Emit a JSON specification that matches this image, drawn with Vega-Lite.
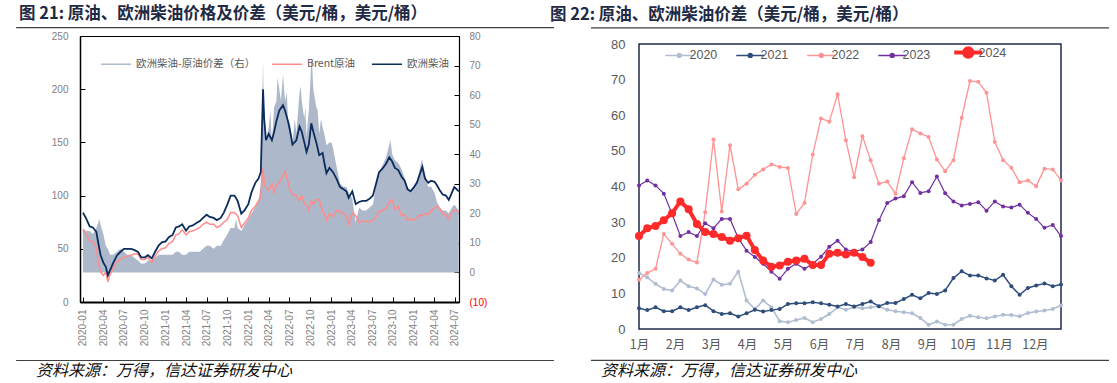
{
"$schema": "https://vega.github.io/schema/vega-lite/v6.json",
"background": "white",
"padding": {"left": 15, "top": 5, "right": 5, "bottom": 5},
"config": {"view": {"stroke": null}, "axis": {"grid": false}, "font": "Liberation Sans"},
"bounds": "flush",
"spacing": 180,
"resolve": {"scale": {"color": "independent", "strokeWidth": "independent"}, "legend": {"color": "independent"}},
"datasets": {
"oil": [
{"date":"2020-01-02","brent":68,"diesel":84,"spread":15},
{"date":"2020-01-15","brent":64,"diesel":79,"spread":14},
{"date":"2020-02-01","brent":57,"diesel":71,"spread":14},
{"date":"2020-02-15","brent":57,"diesel":70,"spread":13},
{"date":"2020-03-01","brent":51,"diesel":66,"spread":15},
{"date":"2020-03-10","brent":37,"diesel":55,"spread":17},
{"date":"2020-03-15","spread":18},
{"date":"2020-03-20","brent":28,"diesel":44,"spread":16},
{"date":"2020-04-01","brent":25,"diesel":37,"spread":13},
{"date":"2020-04-12","brent":28,"diesel":33,"spread":9},
{"date":"2020-04-21","brent":19,"diesel":25,"spread":8},
{"date":"2020-05-01","brent":26,"diesel":30,"spread":6},
{"date":"2020-05-15","brent":32,"diesel":37,"spread":6},
{"date":"2020-06-01","brent":38,"diesel":44,"spread":7},
{"date":"2020-06-15","brent":40,"diesel":47,"spread":8},
{"date":"2020-07-01","brent":42,"diesel":50,"spread":7},
{"date":"2020-07-15","brent":43,"diesel":50,"spread":6},
{"date":"2020-08-01","brent":44,"diesel":50,"spread":6},
{"date":"2020-08-15","brent":45,"diesel":49,"spread":5},
{"date":"2020-09-01","brent":45,"diesel":47,"spread":4},
{"date":"2020-09-15","brent":40,"diesel":42,"spread":3},
{"date":"2020-10-01","brent":40,"diesel":42,"spread":3},
{"date":"2020-10-15","brent":42,"diesel":44,"spread":4},
{"date":"2020-11-01","brent":37,"diesel":41,"spread":4},
{"date":"2020-11-15","brent":43,"diesel":47,"spread":5},
{"date":"2020-12-01","brent":48,"diesel":53,"spread":6},
{"date":"2020-12-15","brent":50,"diesel":56,"spread":6},
{"date":"2021-01-01","brent":51,"diesel":57,"spread":6},
{"date":"2021-01-15","brent":55,"diesel":61,"spread":6},
{"date":"2021-02-01","brent":57,"diesel":63,"spread":6},
{"date":"2021-02-15","brent":63,"diesel":70,"spread":7},
{"date":"2021-03-01","brent":64,"diesel":71,"spread":7},
{"date":"2021-03-15","brent":68,"diesel":73,"spread":6},
{"date":"2021-04-01","brent":63,"diesel":67,"spread":6},
{"date":"2021-04-15","brent":66,"diesel":71,"spread":7},
{"date":"2021-05-01","brent":67,"diesel":72,"spread":7},
{"date":"2021-05-15","brent":68,"diesel":74,"spread":7},
{"date":"2021-06-01","brent":70,"diesel":76,"spread":7},
{"date":"2021-06-15","brent":73,"diesel":79,"spread":8},
{"date":"2021-07-01","brent":75,"diesel":82,"spread":9},
{"date":"2021-07-15","brent":73,"diesel":80,"spread":9},
{"date":"2021-08-01","brent":73,"diesel":79,"spread":8},
{"date":"2021-08-15","brent":70,"diesel":77,"spread":9},
{"date":"2021-09-01","brent":72,"diesel":79,"spread":9},
{"date":"2021-09-15","brent":75,"diesel":84,"spread":11},
{"date":"2021-10-01","brent":78,"diesel":92,"spread":13},
{"date":"2021-10-15","brent":84,"diesel":100,"spread":15},
{"date":"2021-11-01","brent":84,"diesel":100,"spread":15},
{"date":"2021-11-08","spread":18},
{"date":"2021-11-15","brent":81,"diesel":95,"spread":15},
{"date":"2021-12-01","brent":70,"diesel":83,"spread":14},
{"date":"2021-12-15","brent":74,"diesel":86,"spread":16},
{"date":"2022-01-01","brent":79,"diesel":92,"spread":18},
{"date":"2022-01-15","brent":86,"diesel":103,"spread":20},
{"date":"2022-02-01","brent":90,"diesel":112,"spread":22},
{"date":"2022-02-15","brent":95,"diesel":116,"spread":24},
{"date":"2022-02-25","brent":99,"diesel":122,"spread":30},
{"date":"2022-03-07","brent":126,"diesel":200,"spread":72},
{"date":"2022-03-09","spread":62},
{"date":"2022-03-12","brent":112,"diesel":172,"spread":52},
{"date":"2022-03-20","brent":107,"diesel":152,"spread":45},
{"date":"2022-04-01","brent":105,"diesel":158,"spread":49},
{"date":"2022-04-08","spread":55},
{"date":"2022-04-15","brent":111,"diesel":152,"spread":44},
{"date":"2022-04-25","brent":102,"diesel":160,"spread":56},
{"date":"2022-05-05","brent":110,"diesel":170,"spread":58},
{"date":"2022-05-10","spread":66},
{"date":"2022-05-18","brent":112,"diesel":180,"spread":62},
{"date":"2022-05-25","spread":58},
{"date":"2022-06-03","brent":119,"diesel":185,"spread":67},
{"date":"2022-06-12","brent":123,"diesel":180,"spread":58},
{"date":"2022-06-20","spread":61},
{"date":"2022-06-25","brent":113,"diesel":170,"spread":52},
{"date":"2022-07-05","brent":105,"diesel":160,"spread":50},
{"date":"2022-07-15","brent":101,"diesel":148,"spread":44},
{"date":"2022-07-25","spread":52},
{"date":"2022-08-01","brent":100,"diesel":152,"spread":47},
{"date":"2022-08-15","brent":95,"diesel":165,"spread":61},
{"date":"2022-08-20","spread":63},
{"date":"2022-08-25","brent":100,"diesel":160,"spread":58},
{"date":"2022-09-05","brent":93,"diesel":150,"spread":52},
{"date":"2022-09-10","spread":56},
{"date":"2022-09-15","brent":91,"diesel":141,"spread":46},
{"date":"2022-09-25","brent":86,"diesel":148,"spread":55},
{"date":"2022-10-03","spread":66},
{"date":"2022-10-06","brent":95,"diesel":168,"spread":73},
{"date":"2022-10-10","spread":70},
{"date":"2022-10-15","brent":92,"diesel":160,"spread":62},
{"date":"2022-10-28","brent":96,"diesel":150,"spread":56},
{"date":"2022-11-03","spread":55},
{"date":"2022-11-10","brent":96,"diesel":138,"spread":47},
{"date":"2022-11-18","spread":52},
{"date":"2022-11-25","brent":85,"diesel":140,"spread":49},
{"date":"2022-12-05","brent":82,"diesel":128,"spread":46},
{"date":"2022-12-12","brent":77,"diesel":121,"spread":43},
{"date":"2022-12-25","brent":83,"diesel":126,"spread":44},
{"date":"2023-01-03","spread":44},
{"date":"2023-01-10","brent":80,"diesel":122,"spread":42},
{"date":"2023-01-25","brent":86,"diesel":116,"spread":36},
{"date":"2023-02-10","brent":85,"diesel":108,"spread":30},
{"date":"2023-02-25","brent":83,"diesel":106,"spread":29},
{"date":"2023-03-10","brent":80,"diesel":104,"spread":29},
{"date":"2023-03-20","brent":73,"diesel":98,"spread":27},
{"date":"2023-04-05","brent":84,"diesel":104,"spread":25},
{"date":"2023-04-20","brent":81,"diesel":92,"spread":17},
{"date":"2023-05-05","brent":75,"diesel":94,"spread":22},
{"date":"2023-05-20","brent":76,"diesel":95,"spread":21},
{"date":"2023-06-05","brent":76,"diesel":95,"spread":21},
{"date":"2023-06-20","brent":75,"diesel":97,"spread":22},
{"date":"2023-07-05","brent":77,"diesel":100,"spread":23},
{"date":"2023-07-20","brent":80,"diesel":112,"spread":30},
{"date":"2023-08-01","brent":85,"diesel":122,"spread":34},
{"date":"2023-08-15","brent":86,"diesel":125,"spread":36},
{"date":"2023-09-01","brent":88,"diesel":130,"spread":39},
{"date":"2023-09-15","brent":94,"diesel":136,"spread":43},
{"date":"2023-09-20","spread":45},
{"date":"2023-09-28","brent":96,"diesel":132,"spread":40},
{"date":"2023-10-10","brent":87,"diesel":126,"spread":38},
{"date":"2023-10-25","brent":90,"diesel":124,"spread":37},
{"date":"2023-11-08","brent":81,"diesel":118,"spread":35},
{"date":"2023-11-22","brent":82,"diesel":114,"spread":32},
{"date":"2023-12-05","brent":77,"diesel":106,"spread":29},
{"date":"2023-12-18","brent":78,"diesel":104,"spread":27},
{"date":"2024-01-02","brent":77,"diesel":108,"spread":29},
{"date":"2024-01-15","brent":79,"diesel":112,"spread":31},
{"date":"2024-01-28","brent":82,"diesel":120,"spread":35},
{"date":"2024-02-05","spread":38},
{"date":"2024-02-08","brent":81,"diesel":127,"spread":38},
{"date":"2024-02-20","brent":83,"diesel":116,"spread":33},
{"date":"2024-03-05","brent":82,"diesel":112,"spread":29},
{"date":"2024-03-18","brent":86,"diesel":114,"spread":29},
{"date":"2024-04-02","brent":88,"diesel":113,"spread":27},
{"date":"2024-04-12","brent":90,"diesel":110,"spread":24},
{"date":"2024-04-25","brent":88,"diesel":105,"spread":22},
{"date":"2024-05-08","brent":83,"diesel":101,"spread":21},
{"date":"2024-05-22","brent":82,"diesel":100,"spread":21},
{"date":"2024-06-04","brent":78,"diesel":96,"spread":20},
{"date":"2024-06-18","brent":85,"diesel":103,"spread":22},
{"date":"2024-06-28","brent":86,"diesel":108,"spread":23},
{"date":"2024-07-08","brent":86,"diesel":106,"spread":22},
{"date":"2024-07-18","brent":85,"diesel":104,"spread":21}
],
"wk": [
{"year":"2020","week":0,"value":15.7},{"year":"2020","week":1,"value":14.5},{"year":"2020","week":2,"value":12.7},{"year":"2020","week":3,"value":11.2},{"year":"2020","week":4,"value":10.8},{"year":"2020","week":5,"value":13.6},{"year":"2020","week":6,"value":12.0},{"year":"2020","week":7,"value":11.4},{"year":"2020","week":8,"value":9.8},{"year":"2020","week":9,"value":13.9},{"year":"2020","week":10,"value":12.4},{"year":"2020","week":11,"value":12.7},{"year":"2020","week":12,"value":16.1},{"year":"2020","week":13,"value":8.0},{"year":"2020","week":14,"value":5.6},{"year":"2020","week":15,"value":8.0},{"year":"2020","week":16,"value":6.1},{"year":"2020","week":17,"value":2.2},{"year":"2020","week":18,"value":1.9},{"year":"2020","week":19,"value":2.5},{"year":"2020","week":20,"value":3.1},{"year":"2020","week":21,"value":1.9},{"year":"2020","week":22,"value":2.8},{"year":"2020","week":23,"value":4.2},{"year":"2020","week":24,"value":6.1},{"year":"2020","week":25,"value":5.4},{"year":"2020","week":26,"value":6.1},{"year":"2020","week":27,"value":5.8},{"year":"2020","week":28,"value":6.1},{"year":"2020","week":29,"value":6.3},{"year":"2020","week":30,"value":5.4},{"year":"2020","week":31,"value":5.0},{"year":"2020","week":32,"value":4.7},{"year":"2020","week":33,"value":4.4},{"year":"2020","week":34,"value":3.1},{"year":"2020","week":35,"value":1.2},{"year":"2020","week":36,"value":2.1},{"year":"2020","week":37,"value":1.2},{"year":"2020","week":38,"value":1.2},{"year":"2020","week":39,"value":2.8},{"year":"2020","week":40,"value":3.7},{"year":"2020","week":41,"value":3.3},{"year":"2020","week":42,"value":3.0},{"year":"2020","week":43,"value":3.5},{"year":"2020","week":44,"value":4.0},{"year":"2020","week":45,"value":3.9},{"year":"2020","week":46,"value":3.6},{"year":"2020","week":47,"value":4.5},{"year":"2020","week":48,"value":4.9},{"year":"2020","week":49,"value":5.2},{"year":"2020","week":50,"value":5.6},{"year":"2020","week":51,"value":6.6},
{"year":"2021","week":0,"value":5.8},{"year":"2021","week":1,"value":5.3},{"year":"2021","week":2,"value":6.1},{"year":"2021","week":3,"value":5.0},{"year":"2021","week":4,"value":5.0},{"year":"2021","week":5,"value":6.1},{"year":"2021","week":6,"value":5.3},{"year":"2021","week":7,"value":6.1},{"year":"2021","week":8,"value":6.7},{"year":"2021","week":9,"value":5.0},{"year":"2021","week":10,"value":4.2},{"year":"2021","week":11,"value":4.4},{"year":"2021","week":12,"value":3.5},{"year":"2021","week":13,"value":4.4},{"year":"2021","week":14,"value":5.4},{"year":"2021","week":15,"value":4.9},{"year":"2021","week":16,"value":5.3},{"year":"2021","week":17,"value":5.6},{"year":"2021","week":18,"value":7.0},{"year":"2021","week":19,"value":7.2},{"year":"2021","week":20,"value":7.2},{"year":"2021","week":21,"value":7.5},{"year":"2021","week":22,"value":7.2},{"year":"2021","week":23,"value":6.8},{"year":"2021","week":24,"value":6.3},{"year":"2021","week":25,"value":7.0},{"year":"2021","week":26,"value":6.3},{"year":"2021","week":27,"value":7.0},{"year":"2021","week":28,"value":7.7},{"year":"2021","week":29,"value":6.4},{"year":"2021","week":30,"value":7.3},{"year":"2021","week":31,"value":7.3},{"year":"2021","week":32,"value":8.4},{"year":"2021","week":33,"value":9.6},{"year":"2021","week":34,"value":8.6},{"year":"2021","week":35,"value":10.1},{"year":"2021","week":36,"value":9.8},{"year":"2021","week":37,"value":10.8},{"year":"2021","week":38,"value":14.3},{"year":"2021","week":39,"value":16.2},{"year":"2021","week":40,"value":15.0},{"year":"2021","week":41,"value":15.0},{"year":"2021","week":42,"value":14.2},{"year":"2021","week":43,"value":13.6},{"year":"2021","week":44,"value":15.2},{"year":"2021","week":45,"value":12.0},{"year":"2021","week":46,"value":9.6},{"year":"2021","week":47,"value":11.5},{"year":"2021","week":48,"value":12.2},{"year":"2021","week":49,"value":12.8},{"year":"2021","week":50,"value":12.0},{"year":"2021","week":51,"value":12.5},
{"year":"2022","week":0,"value":13.8},{"year":"2022","week":1,"value":15.7},{"year":"2022","week":2,"value":16.9},{"year":"2022","week":3,"value":26.7},{"year":"2022","week":4,"value":23.9},{"year":"2022","week":5,"value":21.1},{"year":"2022","week":6,"value":19.5},{"year":"2022","week":7,"value":18.7},{"year":"2022","week":8,"value":32.8},{"year":"2022","week":9,"value":53.2},{"year":"2022","week":10,"value":33.0},{"year":"2022","week":11,"value":51.6},{"year":"2022","week":12,"value":39.2},{"year":"2022","week":13,"value":40.8},{"year":"2022","week":14,"value":43.3},{"year":"2022","week":15,"value":44.8},{"year":"2022","week":16,"value":46.2},{"year":"2022","week":17,"value":45.5},{"year":"2022","week":18,"value":45.2},{"year":"2022","week":19,"value":32.3},{"year":"2022","week":20,"value":35.4},{"year":"2022","week":21,"value":49.0},{"year":"2022","week":22,"value":59.1},{"year":"2022","week":23,"value":58.2},{"year":"2022","week":24,"value":65.9},{"year":"2022","week":25,"value":53.0},{"year":"2022","week":26,"value":42.6},{"year":"2022","week":27,"value":54.1},{"year":"2022","week":28,"value":47.4},{"year":"2022","week":29,"value":40.8},{"year":"2022","week":30,"value":41.4},{"year":"2022","week":31,"value":38.0},{"year":"2022","week":32,"value":47.9},{"year":"2022","week":33,"value":56.1},{"year":"2022","week":34,"value":54.9},{"year":"2022","week":35,"value":53.9},{"year":"2022","week":36,"value":47.6},{"year":"2022","week":37,"value":44.3},{"year":"2022","week":38,"value":47.4},{"year":"2022","week":39,"value":59.3},{"year":"2022","week":40,"value":69.6},{"year":"2022","week":41,"value":69.4},{"year":"2022","week":42,"value":66.3},{"year":"2022","week":43,"value":52.5},{"year":"2022","week":44,"value":47.4},{"year":"2022","week":45,"value":45.3},{"year":"2022","week":46,"value":41.2},{"year":"2022","week":47,"value":41.7},{"year":"2022","week":48,"value":40.1},{"year":"2022","week":49,"value":45.0},{"year":"2022","week":50,"value":44.8},{"year":"2022","week":51,"value":41.7},
{"year":"2023","week":0,"value":40.3},{"year":"2023","week":1,"value":41.7},{"year":"2023","week":2,"value":40.3},{"year":"2023","week":3,"value":38.0},{"year":"2023","week":4,"value":32.3},{"year":"2023","week":5,"value":26.1},{"year":"2023","week":6,"value":27.2},{"year":"2023","week":7,"value":26.1},{"year":"2023","week":8,"value":29.7},{"year":"2023","week":9,"value":28.3},{"year":"2023","week":10,"value":30.9},{"year":"2023","week":11,"value":30.9},{"year":"2023","week":12,"value":25.5},{"year":"2023","week":13,"value":22.0},{"year":"2023","week":14,"value":20.2},{"year":"2023","week":15,"value":18.3},{"year":"2023","week":16,"value":16.1},{"year":"2023","week":17,"value":14.1},{"year":"2023","week":18,"value":16.9},{"year":"2023","week":19,"value":18.3},{"year":"2023","week":20,"value":16.9},{"year":"2023","week":21,"value":18.3},{"year":"2023","week":22,"value":20.3},{"year":"2023","week":23,"value":23.1},{"year":"2023","week":24,"value":24.8},{"year":"2023","week":25,"value":22.3},{"year":"2023","week":26,"value":21.7},{"year":"2023","week":27,"value":22.3},{"year":"2023","week":28,"value":24.4},{"year":"2023","week":29,"value":30.5},{"year":"2023","week":30,"value":35.4},{"year":"2023","week":31,"value":36.6},{"year":"2023","week":32,"value":37.3},{"year":"2023","week":33,"value":41.2},{"year":"2023","week":34,"value":38.2},{"year":"2023","week":35,"value":38.7},{"year":"2023","week":36,"value":42.8},{"year":"2023","week":37,"value":38.1},{"year":"2023","week":38,"value":35.8},{"year":"2023","week":39,"value":34.7},{"year":"2023","week":40,"value":35.1},{"year":"2023","week":41,"value":35.6},{"year":"2023","week":42,"value":33.2},{"year":"2023","week":43,"value":35.8},{"year":"2023","week":44,"value":34.4},{"year":"2023","week":45,"value":34.1},{"year":"2023","week":46,"value":34.9},{"year":"2023","week":47,"value":32.6},{"year":"2023","week":48,"value":30.9},{"year":"2023","week":49,"value":28.4},{"year":"2023","week":50,"value":29.2},{"year":"2023","week":51,"value":26.1},
{"year":"2024","week":0,"value":26.1},{"year":"2024","week":1,"value":28.3},{"year":"2024","week":2,"value":28.9},{"year":"2024","week":3,"value":30.5},{"year":"2024","week":4,"value":32.5},{"year":"2024","week":5,"value":35.8},{"year":"2024","week":6,"value":33.6},{"year":"2024","week":7,"value":29.5},{"year":"2024","week":8,"value":27.2},{"year":"2024","week":9,"value":26.7},{"year":"2024","week":10,"value":25.8},{"year":"2024","week":11,"value":24.8},{"year":"2024","week":12,"value":25.5},{"year":"2024","week":13,"value":26.2},{"year":"2024","week":14,"value":22.2},{"year":"2024","week":15,"value":19.2},{"year":"2024","week":16,"value":17.5},{"year":"2024","week":17,"value":17.8},{"year":"2024","week":18,"value":18.9},{"year":"2024","week":19,"value":19.2},{"year":"2024","week":20,"value":19.7},{"year":"2024","week":21,"value":18.0},{"year":"2024","week":22,"value":18.0},{"year":"2024","week":23,"value":21.1},{"year":"2024","week":24,"value":21.4},{"year":"2024","week":25,"value":20.9},{"year":"2024","week":26,"value":21.4},{"year":"2024","week":27,"value":20.2},{"year":"2024","week":28,"value":18.6}
]
},
"hconcat": [
{
"width": 379, "height": 266,
"view": {"stroke": "#000000", "strokeWidth": 1},
"title": {"text": "图 21: 原油、欧洲柴油价格及价差（美元/桶，美元/桶）", "anchor": "start", "frame": "group", "dx": -61, "offset": 4, "fontSize": 16.5, "fontWeight": "bold", "color": "#1F2A44", "font": "Noto Sans CJK SC"},
"resolve": {"scale": {"x": "independent", "y": "independent"}, "axis": {"x": "independent", "y": "independent"}},
"layer": [
{
"data": {"name": "oil"},
"resolve": {"scale": {"y": "independent"}, "axis": {"y": "independent"}},
"layer": [
{
"mark": {"type": "area", "opacity": 1},
"encoding": {
"x": {"field": "date", "type": "temporal",
"scale": {"type": "utc", "domain": [{"year":2019,"month":12,"date":20,"utc":true},{"year":2024,"month":7,"date":19,"utc":true}]},
"axis": {"orient": "bottom", "tickCount": 100, "values": [{"year":2020,"month":1,"date":1,"utc":true},{"year":2020,"month":4,"date":1,"utc":true},{"year":2020,"month":7,"date":1,"utc":true},{"year":2020,"month":10,"date":1,"utc":true},{"year":2021,"month":1,"date":1,"utc":true},{"year":2021,"month":4,"date":1,"utc":true},{"year":2021,"month":7,"date":1,"utc":true},{"year":2021,"month":10,"date":1,"utc":true},{"year":2022,"month":1,"date":1,"utc":true},{"year":2022,"month":4,"date":1,"utc":true},{"year":2022,"month":7,"date":1,"utc":true},{"year":2022,"month":10,"date":1,"utc":true},{"year":2023,"month":1,"date":1,"utc":true},{"year":2023,"month":4,"date":1,"utc":true},{"year":2023,"month":7,"date":1,"utc":true},{"year":2023,"month":10,"date":1,"utc":true},{"year":2024,"month":1,"date":1,"utc":true},{"year":2024,"month":4,"date":1,"utc":true},{"year":2024,"month":7,"date":1,"utc":true}],
"format": "%Y-%m", "labelAngle": 270, "labelFontSize": 10, "labelColor": "#808080", "labelPadding": 12, "tickSize": -5, "tickColor": "#000000", "domainColor": "#000000", "domainWidth": 2, "title": null, "labelFlush": false, "grid": false}},
"y": {"field": "spread", "type": "quantitative", "scale": {"domain": [-10, 80], "nice": false},
"axis": {"orient": "right", "tickCount": 100, "values": [-10,0,10,20,30,40,50,60,70,80], "labelExpr": "datum.value < 0 ? '(' + (-datum.value) + ')' : datum.label", "labelColor": {"condition": {"test": "datum.value < 0", "value": "#FF0000"}, "value": "#808080"}, "labelFontSize": 10, "tickSize": -5, "tickColor": "#000000", "labelPadding": 15, "domainColor": "#000000", "domainWidth": 1.2, "title": null, "grid": false}},
"y2": {"datum": 0},
"color": {"datum": "欧洲柴油-原油价差（右）",
"scale": {"domain": ["欧洲柴油-原油价差（右）", "Brent原油", "欧洲柴油"], "range": ["#ADB9CA", "#FF8C8C", "#0C2C5E"]},
"legend": {"orient": "none", "legendX": 20, "legendY": 12, "direction": "horizontal", "title": null, "symbolType": "stroke", "symbolSize": 900, "labelFontSize": 10.5, "labelColor": "#595959", "labelFont": "Noto Sans CJK SC", "labelOffset": 4, "columnPadding": 13,
"encode": {"symbols": {"update": {"strokeWidth": {"signal": "datum.value === '欧洲柴油-原油价差（右）' ? 7 : 1.5"}, "stroke": {"signal": "datum.value === '欧洲柴油-原油价差（右）' ? '#ADB9CA' : datum.value === 'Brent原油' ? '#FF8C8C' : '#0C2C5E'"}, "fill": {"value": "transparent"}}}}}}
}
},
{
"layer": [
{"transform": [{"filter": "isValid(datum.brent)"}],
"mark": {"type": "line", "strokeWidth": 1.5},
"encoding": {"x": {"field": "date", "type": "temporal"},
"y": {"field": "brent", "type": "quantitative", "scale": {"domain": [0, 250], "nice": false},
"axis": {"orient": "left", "tickCount": 100, "values": [0,50,100,150,200,250], "labelColor": "#808080", "labelFontSize": 10, "tickSize": -5, "tickColor": "#000000", "labelPadding": 17, "domainColor": "#000000", "domainWidth": 1.5, "title": null, "grid": false}},
"color": {"datum": "Brent原油"}}},
{"transform": [{"filter": "isValid(datum.diesel)"}],
"mark": {"type": "line", "strokeWidth": 1.8},
"encoding": {"x": {"field": "date", "type": "temporal"},
"y": {"field": "diesel", "type": "quantitative"},
"color": {"datum": "欧洲柴油"}}}
]
}
]
},
{
"data": {"values": [{}]},
"layer": [
{"mark": {"type": "rect", "color": "#404040"},
"encoding": {
"x": {"datum": {"year":2019,"month":3,"date":13,"utc":true}, "type": "temporal", "scale": {"type": "utc", "domain": [{"year":2019,"month":12,"date":20,"utc":true},{"year":2024,"month":7,"date":19,"utc":true}]}, "axis": {"orient": "top", "labels": false, "ticks": false, "domain": false, "grid": false, "title": null}},
"x2": {"datum": {"year":2025,"month":9,"date":11,"utc":true}},
"y": {"datum": 257.4, "type": "quantitative", "scale": {"domain": [0, 250], "nice": false}, "axis": {"orient": "left", "labels": false, "ticks": false, "domain": false, "grid": false, "title": null}},
"y2": {"datum": 258.5}}},
{"mark": {"type": "rect", "color": "#404040"},
"encoding": {"x": {"datum": {"year":2019,"month":3,"date":13,"utc":true}, "type": "temporal"}, "x2": {"datum": {"year":2025,"month":9,"date":11,"utc":true}}, "y": {"datum": -54.4, "type": "quantitative"}, "y2": {"datum": -55.5}}},
{"mark": {"type": "text", "align": "left", "baseline": "middle", "fontStyle": "italic", "fontSize": 16, "font": "Noto Sans CJK SC", "color": "#111111"},
"encoding": {"x": {"datum": {"year":2019,"month":6,"date":9,"utc":true}, "type": "temporal"}, "y": {"datum": -64.8, "type": "quantitative"}, "text": {"value": "资料来源：万得，信达证券研发中心"}}}
]
}
]
},
{
"width": 422, "height": 293,
"title": {"text": "图 22: 原油、欧洲柴油价差（美元/桶，美元/桶）", "anchor": "start", "frame": "group", "dx": -89, "offset": 4, "fontSize": 16.5, "fontWeight": "bold", "color": "#1F2A44", "font": "Noto Sans CJK SC"},
"resolve": {"scale": {"x": "independent", "y": "independent"}, "axis": {"x": "independent", "y": "independent"}},
"layer": [
{
"data": {"values": [{}]},
"layer": [
{"mark": {"type": "rect", "fill": "transparent", "stroke": "#1F2B4A", "strokeWidth": 1.5},
"encoding": {
"x": {"datum": 0, "type": "quantitative", "scale": {"domain": [0, 51], "nice": false, "zero": false}, "axis": {"orient": "top", "labels": false, "ticks": false, "domain": false, "grid": false, "title": null}},
"x2": {"datum": 51},
"y": {"datum": 0, "type": "quantitative", "scale": {"domain": [0, 82.25], "nice": false}, "axis": {"orient": "right", "labels": false, "ticks": false, "domain": false, "grid": false, "title": null}},
"y2": {"datum": 80}}},
{"mark": {"type": "rect", "color": "#404040"},
"encoding": {"x": {"datum": -5.8, "type": "quantitative"}, "x2": {"datum": 56.8}, "y": {"datum": 84.35, "type": "quantitative"}, "y2": {"datum": 84.7}}},
{"mark": {"type": "rect", "color": "#404040"},
"encoding": {"x": {"datum": -5.8, "type": "quantitative"}, "x2": {"datum": 56.8}, "y": {"datum": -8.6, "type": "quantitative"}, "y2": {"datum": -8.95}}},
{"mark": {"type": "text", "align": "left", "baseline": "middle", "fontStyle": "italic", "fontSize": 16, "font": "Noto Sans CJK SC", "color": "#111111"},
"encoding": {"x": {"datum": -4.6, "type": "quantitative"}, "y": {"datum": -11.8, "type": "quantitative"}, "text": {"value": "资料来源：万得，信达证券研发中心"}}}
]
},
{
"data": {"name": "wk"},
"layer": [
{"transform": [{"filter": "datum.year != '2024'"}],
"mark": {"type": "line"},
"encoding": {
"x": {"field": "week", "type": "quantitative", "scale": {"domain": [0, 51], "nice": false, "zero": false},
"axis": {"orient": "bottom", "tickCount": 100, "values": [0,4.35,8.7,13.05,17.4,21.75,26.1,30.45,34.8,39.15,43.5,47.85], "labelExpr": "round(datum.value/4.35)+1 + '月'", "ticks": false, "domain": false, "labelPadding": 9, "labelFontSize": 12.5, "labelColor": "#595959", "labelFont": "Noto Sans CJK SC", "labelFlush": false, "title": null, "grid": false}},
"y": {"field": "value", "type": "quantitative", "scale": {"domain": [0, 82.25], "nice": false},
"axis": {"orient": "left", "tickCount": 100, "values": [0,10,20,30,40,50,60,70,80], "ticks": false, "domain": false, "labelPadding": 14, "labelFontSize": 13, "labelColor": "#595959", "title": null, "grid": false}},
"color": {"field": "year", "type": "nominal", "scale": {"domain": ["2020","2021","2022","2023","2024"], "range": ["#B1BDD1","#2F4D7A","#FF9494","#7030A0","#FF2A2A"]},
"legend": {"orient": "none", "legendX": 34, "legendY": 10, "direction": "horizontal", "title": null, "symbolSize": 784, "labelFontSize": 12.5, "labelColor": "#595959", "labelOffset": 4, "columnPadding": 15,
"encode": {"symbols": {"update": {
"shape": {"signal": "datum.value === '2024' ? 'M-1,0H1M0.3,0A0.3,0.3,0,1,1,-0.3,0A0.3,0.3,0,1,1,0.3,0Z' : 'M-1,0H1M0.14,0A0.14,0.14,0,1,1,-0.14,0A0.14,0.14,0,1,1,0.14,0Z'"},
"strokeWidth": {"signal": "datum.value === '2024' ? 4 : 1.5"},
"stroke": {"signal": "datum.value === '2020' ? '#B1BDD1' : datum.value === '2021' ? '#2F4D7A' : datum.value === '2022' ? '#FF9494' : datum.value === '2023' ? '#7030A0' : '#FF2A2A'"},
"fill": {"signal": "datum.value === '2020' ? '#B1BDD1' : datum.value === '2021' ? '#2F4D7A' : datum.value === '2022' ? '#FF9494' : datum.value === '2023' ? '#7030A0' : '#FF2A2A'"},
"opacity": {"value": 1}}}}}},
"strokeWidth": {"field": "year", "type": "nominal", "scale": {"domain": ["2020","2021","2022","2023"], "range": [1.6, 1.2, 1, 1.6]}, "legend": null}}},
{"transform": [{"filter": "datum.year != '2024'"}],
"mark": {"type": "point", "filled": true, "opacity": 1, "size": 16},
"encoding": {"x": {"field": "week", "type": "quantitative"}, "y": {"field": "value", "type": "quantitative"}, "color": {"field": "year", "type": "nominal"}}},
{"transform": [{"filter": "datum.year == '2024'"}],
"mark": {"type": "line", "strokeWidth": 4},
"encoding": {"x": {"field": "week", "type": "quantitative"}, "y": {"field": "value", "type": "quantitative"}, "color": {"field": "year", "type": "nominal"}}},
{"transform": [{"filter": "datum.year == '2024'"}],
"mark": {"type": "point", "filled": true, "opacity": 1, "size": 64},
"encoding": {"x": {"field": "week", "type": "quantitative"}, "y": {"field": "value", "type": "quantitative"}, "color": {"field": "year", "type": "nominal"}}}
]
}
]
}
]
}
